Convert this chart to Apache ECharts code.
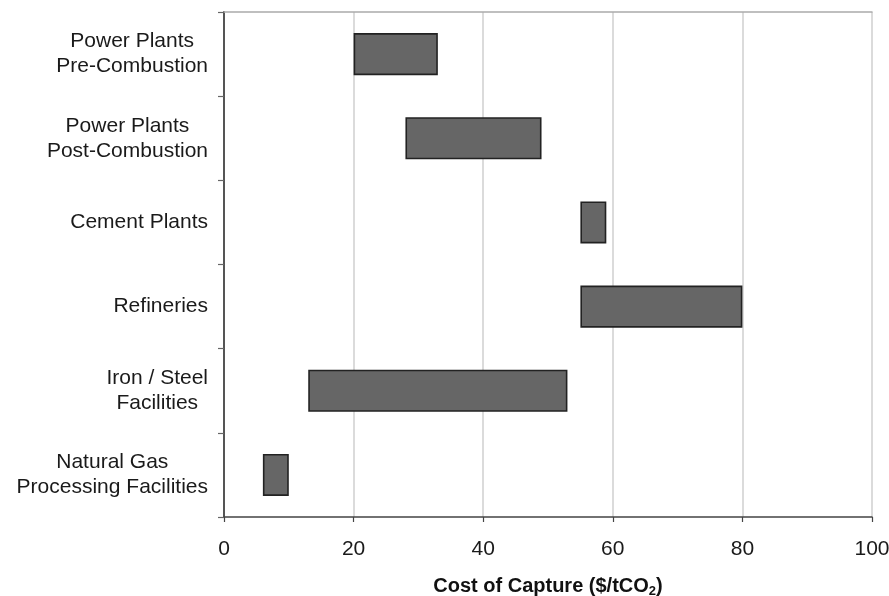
<!DOCTYPE html>
<html>
<head>
<meta charset="utf-8">
<script src="https://cdn.jsdelivr.net/npm/echarts@6/dist/echarts.min.js"></script>
<style>
html,body{margin:0;padding:0;background:#fff;}
#chart{width:889px;height:596px;}
</style>
</head>
<body>
<div id="chart"></div>
<script>
const categories = ['Power Plants\nPre-Combustion', 'Power Plants\nPost-Combustion', 'Cement Plants', 'Refineries', 'Iron / Steel\nFacilities', 'Natural Gas\nProcessing Facilities'];
const lowCost = [20, 28, 55, 55, 13, 6];
const highCost = [33, 49, 59, 80, 53, 10];
const xMin = 0, xMax = 100, xInterval = 20;

const spans = highCost.map((h, i) => h - lowCost[i]);
const FONT = '"Liberation Sans", Arial, Helvetica, sans-serif';

const chart = echarts.init(document.getElementById('chart'));
chart.setOption({
  animation: false,
  backgroundColor: '#ffffff',
  grid: { left: 224, right: 17, top: 12, bottom: 79, containLabel: false, outerBoundsMode: 'none' },
  xAxis: [{
    type: 'value', min: xMin, max: xMax, interval: xInterval,
    position: 'bottom',
    axisLine: { show: true, lineStyle: { color: '#444', width: 1.5 } },
    axisTick: { show: true, inside: false, length: 5, lineStyle: { color: '#444', width: 1.2 } },
    axisLabel: { margin: 22, fontSize: 21, color: '#1a1a1a', fontFamily: FONT },
    splitLine: { show: true, lineStyle: { color: '#cfcfcf', width: 1.5 } },
    name: '{b|Cost of Capture ($/tCO}{s|2}{b|)}',
    nameLocation: 'middle', nameGap: 58,
    nameTextStyle: {
      rich: {
        b: { fontSize: 20, fontWeight: 'bold', color: '#111', fontFamily: FONT },
        s: { fontSize: 13, fontWeight: 'bold', color: '#111', fontFamily: FONT, padding: [10, 0, 0, 0] }
      }
    }
  }, {
    type: 'value', min: xMin, max: xMax, position: 'top',
    axisLine: { show: true, lineStyle: { color: '#aaaaaa', width: 1.5 } },
    axisTick: { show: false }, axisLabel: { show: false }, splitLine: { show: false }
  }],
  yAxis: [{
    type: 'category', data: categories, inverse: true,
    axisLine: { show: true, lineStyle: { color: '#666', width: 1.5 } },
    axisTick: { show: true, inside: false, length: 6, alignWithLabel: false, lineStyle: { color: '#666', width: 1.2 } },
    axisLabel: {
      margin: 16, color: '#1a1a1a',
      formatter: v => v.split('\n').map(l => '{c|' + l + '}').join('\n'),
      rich: { c: { align: 'center', fontSize: 21, lineHeight: 25, color: '#1a1a1a', fontFamily: FONT } }
    },
    splitLine: { show: false }
  }, {
    type: 'value', min: 0, max: 1, position: 'right',
    axisLine: { show: true, lineStyle: { color: '#555', width: 2 } },
    axisTick: { show: false }, axisLabel: { show: false }, splitLine: { show: false }
  }],
  series: [{
    type: 'bar', stack: 'r', data: lowCost, barWidth: '50%',
    itemStyle: { color: 'rgba(0,0,0,0)', borderWidth: 0 },
    emphasis: { disabled: true }, silent: true
  }, {
    type: 'bar', stack: 'r', data: spans, barWidth: '50%',
    itemStyle: { color: '#666666', borderColor: '#222', borderWidth: 1.6 },
    silent: true
  }]
});
</script>
</body>
</html>
